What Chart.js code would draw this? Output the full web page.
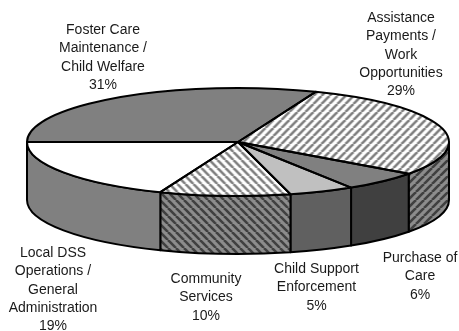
<!DOCTYPE html>
<html>
<head>
<meta charset="utf-8">
<title>Expenditures</title>
<script src="https://cdn.jsdelivr.net/npm/chart.js@4"></script>
<style>
    html, body { margin: 0; padding: 0; background: #fff; overflow: hidden; }
    canvas { display: block; }
</style>
</head>
<body>
<canvas id="pieChart" width="459" height="331"></canvas>
<script>
// Data
const categories = [
    'Foster Care Maintenance / Child Welfare',
    'Assistance Payments / Work Opportunities',
    'Purchase of Care',
    'Child Support Enforcement',
    'Community Services',
    'Local DSS Operations / General Administration'
];
const shares = [31, 29, 6, 5, 10, 19];

// Label text, broken up the way it is printed
const labelLines = [
    ['Foster Care', 'Maintenance /', 'Child Welfare', '31%'],
    ['Assistance', 'Payments /', 'Work', 'Opportunities', '29%'],
    ['Purchase of', 'Care', '6%'],
    ['Child Support', 'Enforcement', '5%'],
    ['Community', 'Services', '10%'],
    ['Local DSS', 'Operations /', 'General', 'Administration', '19%']
];
const labelPos = [[103, 30], [401, 18], [420, 258], [316.5, 269], [206, 279], [53, 253]];
const lineHeight = 18.4;

// Shape of the tilted pie
const cx = 238, cy = 142, rx = 211, ry = 54, depth = 58;

// Diagonal stripe fill, dir 1 leans like "/" and -1 like "\"
function hatch(bg, fg, dir) {
    const size = 8;
    const c = document.createElement('canvas');
    c.width = c.height = size;
    const g = c.getContext('2d');
    g.fillStyle = bg;
    g.fillRect(0, 0, size, size);
    g.strokeStyle = fg;
    g.lineWidth = 2.6;
    for (let i = -size; i <= size; i += size) {
        g.beginPath();
        g.moveTo(i, dir > 0 ? size : 0);
        g.lineTo(i + size, dir > 0 ? 0 : size);
        g.stroke();
    }
    return g.createPattern(c, 'repeat');
}

const topColors = [
    '#808080',
    hatch('#ffffff', '#808080', 1),
    '#808080',
    '#c0c0c0',
    hatch('#ffffff', '#808080', -1),
    '#ffffff'
];
const sideColors = [
    '#606060',
    hatch('#8c8c8c', '#404040', 1),
    '#404040',
    '#606060',
    hatch('#8c8c8c', '#404040', -1),
    '#808080'
];

// Squashes the round pie into the tilted ellipse, draws the rim and the outlines
const tiltedPie = {
    id: 'tiltedPie',
    beforeDatasetDraw(chart) {
        const ctx = chart.ctx;
        const arcs = chart.getDatasetMeta(0).data;
        const r = arcs[0].outerRadius;

        // rim first, only the front half shows
        ctx.save();
        ctx.lineWidth = 2;
        ctx.strokeStyle = '#000';
        ctx.lineJoin = 'round';
        arcs.forEach((arc, i) => {
            const a0 = Math.max(arc.startAngle, 0);
            const a1 = Math.min(arc.endAngle, Math.PI);
            if (a1 <= a0) return;
            ctx.beginPath();
            ctx.ellipse(cx, cy, rx, ry, 0, a0, a1);
            ctx.ellipse(cx, cy + depth, rx, ry, 0, a1, a0, true);
            ctx.closePath();
            ctx.fillStyle = sideColors[i];
            ctx.fill();
            ctx.stroke();
        });
        ctx.restore();

        // keep the stripes square once the context is squashed
        const sx = rx / r, sy = ry / r;
        topColors.forEach(c => {
            if (c instanceof CanvasPattern) c.setTransform(new DOMMatrix().scale(1 / sx, 1 / sy));
        });
        ctx.save();
        ctx.translate(cx, cy);
        ctx.scale(sx, sy);
        ctx.translate(-arcs[0].x, -arcs[0].y);
    },
    afterDatasetDraw(chart) {
        const ctx = chart.ctx;
        ctx.restore();

        ctx.save();
        ctx.lineWidth = 2;
        ctx.strokeStyle = '#000';
        ctx.lineJoin = 'round';
        chart.getDatasetMeta(0).data.forEach(arc => {
            ctx.beginPath();
            ctx.moveTo(cx, cy);
            ctx.ellipse(cx, cy, rx, ry, 0, arc.startAngle, arc.endAngle);
            ctx.closePath();
            ctx.stroke();
        });

        // slice labels
        ctx.fillStyle = '#1a1a1a';
        ctx.font = '14px "Liberation Sans", Arial, sans-serif';
        ctx.textAlign = 'center';
        ctx.textBaseline = 'middle';
        labelLines.forEach((lines, i) => {
            lines.forEach((line, j) => {
                ctx.fillText(line, labelPos[i][0], labelPos[i][1] + j * lineHeight);
            });
        });
        ctx.restore();
    }
};

const ctx = document.getElementById('pieChart').getContext('2d');
new Chart(ctx, {
    type: 'pie',
    data: {
        labels: categories,
        datasets: [{
            data: shares,
            backgroundColor: topColors,
            borderWidth: 0
        }]
    },
    options: {
        responsive: false,
        animation: false,
        rotation: -90,
        plugins: {
            legend: { display: false },
            tooltip: { enabled: false }
        }
    },
    plugins: [tiltedPie]
});
</script>
</body>
</html>
